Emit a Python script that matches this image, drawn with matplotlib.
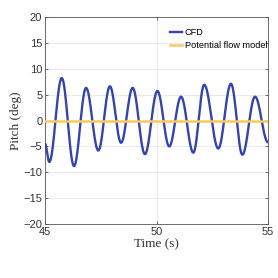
import numpy as np
import matplotlib
matplotlib.use("Agg")
import matplotlib.pyplot as plt

# extrema of the CFD pitch signal (time s, pitch deg)
cfd_t = [45.0, 45.19, 45.75, 46.30, 46.84, 47.39, 47.91, 48.41, 48.93,
         49.48, 50.04, 50.57, 51.10, 51.65, 52.14, 52.77, 53.34, 53.85,
         54.42, 55.0]
cfd_pitch = [-4.5, -8.0, 8.2, -8.8, 6.3, -5.8, 6.6, -4.3, 6.3,
             -6.5, 5.7, -5.0, 4.6, -6.2, 6.9, -5.4, 7.1, -6.6,
             4.6, -4.2]

pot_t = [45.0, 55.0]
pot_pitch = [0.0, 0.0]

x_ticks = [45, 50, 55]
y_ticks = [-20, -15, -10, -5, 0, 5, 10, 15, 20]


def smooth(ts, vs, n=40):
    # half-cosine between consecutive extrema
    xs, ys = [], []
    for i in range(len(ts) - 1):
        s = np.linspace(0, 1, n, endpoint=False)
        w = (1 - np.cos(np.pi * s)) / 2
        xs.extend(ts[i] + (ts[i + 1] - ts[i]) * s)
        ys.extend(vs[i] + (vs[i + 1] - vs[i]) * w)
    xs.append(ts[-1])
    ys.append(vs[-1])
    return np.array(xs), np.array(ys)


fig = plt.figure(figsize=(2.78, 2.78), dpi=100, facecolor="white")
ax = fig.add_axes([0.162, 0.194, 0.802, 0.745])

tx, py = smooth(cfd_t, cfd_pitch)
ax.plot(tx, py, color="#3444a8", lw=1.7, label="CFD", zorder=3)
ax.plot(pot_t, pot_pitch, color="#fdc85e", lw=1.8, label="Potential flow model", zorder=4)

ax.set_xlim(45, 55)
ax.set_ylim(-20, 20)
ax.set_xticks(x_ticks)
ax.set_yticks(y_ticks)
ax.grid(True, color="#e6e6e6", lw=0.6)
ax.set_axisbelow(True)

ax.tick_params(direction="in", length=2.5, width=0.5, colors="#333333",
               labelsize=8, top=True, right=True, pad=2)
for lab in ax.get_xticklabels() + ax.get_yticklabels():
    lab.set_family("Liberation Sans")
for sp in ax.spines.values():
    sp.set_color("#555555")
    sp.set_linewidth(0.6)

ax.set_xlabel("Time (s)", family="Liberation Serif", fontsize=9.5, color="#333333", labelpad=1)
ax.set_ylabel("Pitch (deg)", family="Liberation Serif", fontsize=9.5, color="#333333", labelpad=1)

leg = ax.legend(loc="upper right", frameon=False,
                prop={"family": "Liberation Sans", "size": 6.6},
                handlelength=1.4, handletextpad=0.25, borderaxespad=0.0,
                labelspacing=0.45, borderpad=0.2,
                bbox_to_anchor=(1.005, 0.955))

fig.savefig("out.png", dpi=100, facecolor="white")
